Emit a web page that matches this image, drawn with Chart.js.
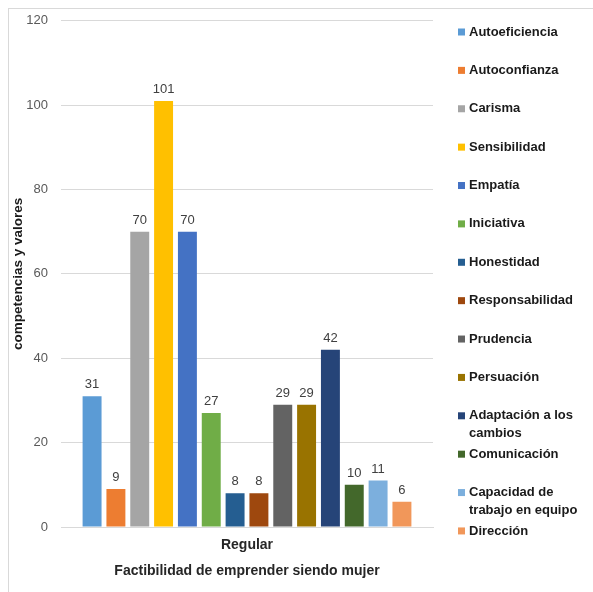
<!DOCTYPE html>
<html>
<head>
<meta charset="utf-8">
<script src="https://cdn.jsdelivr.net/npm/chart.js@4/dist/chart.umd.min.js"></script>
<style>
html,body{margin:0;padding:0;background:#fff;}
#wrap{position:relative;width:593px;height:592px;}
#frame{position:absolute;left:8px;top:8px;width:600px;height:600px;border-left:1px solid #d9d9d9;border-top:1px solid #d9d9d9;box-sizing:border-box;pointer-events:none;}
canvas{position:absolute;left:0;top:0;}
</style>
</head>
<body>
<div id="wrap"><canvas id="c" width="593" height="592"></canvas><div id="frame"></div></div>
<script>
const categories = ["Regular"];
const seriesNames = ["Autoeficiencia","Autoconfianza","Carisma","Sensibilidad","Empatía","Iniciativa","Honestidad","Responsabilidad","Prudencia","Persuación","Adaptación a los cambios","Comunicación","Capacidad de trabajo en equipo","Dirección"];
const legendLines = [["Autoeficiencia"],["Autoconfianza"],["Carisma"],["Sensibilidad"],["Empatía"],["Iniciativa"],["Honestidad"],["Responsabilidad"],["Prudencia"],["Persuación"],["Adaptación a los","cambios"],["Comunicación"],["Capacidad de","trabajo en equipo"],["Dirección"]];
const seriesValues = [31, 9, 70, 101, 70, 27, 8, 8, 29, 29, 42, 10, 11, 6];
const seriesColors = ["#5B9BD5","#ED7D31","#A5A5A5","#FFC000","#4472C4","#70AD47","#255E91","#9E480E","#636363","#997300","#264478","#43682B","#7CAFDD","#F1975A"];
const yTicks = [0, 20, 40, 60, 80, 100, 120];
const yTitle = "competencias y valores";
const xTitle = "Factibilidad de emprender siendo mujer";

const FONT = "'Liberation Sans', Arial, sans-serif";

const valueLabels = {
  id: 'valueLabels',
  afterDatasetsDraw(chart) {
    const ctx = chart.ctx;
    ctx.save();
    ctx.font = "13px " + FONT;
    ctx.fillStyle = "#404040";
    ctx.textAlign = "center";
    ctx.textBaseline = "bottom";
    chart.data.datasets.forEach((ds, i) => {
      const meta = chart.getDatasetMeta(i);
      meta.data.forEach((bar, j) => {
        ctx.fillText(String(ds.data[j]), bar.x, bar.y - 5);
      });
    });
    ctx.restore();
  }
};

const sideLegend = {
  id: 'sideLegend',
  afterDraw(chart) {
    const ctx = chart.ctx;
    ctx.save();
    ctx.font = "bold 13px " + FONT;
    ctx.textBaseline = "middle";
    ctx.textAlign = "left";
    const y0 = 32, step = 38.38;
    chart.data.datasets.forEach((ds, i) => {
      const y = y0 + i * step;
      ctx.fillStyle = ds.backgroundColor;
      ctx.fillRect(458, y - 3.5, 7, 7);
      ctx.fillStyle = "#1a1a1a";
      legendLines[i].forEach((line, k) => {
        ctx.fillText(line, 469, y + k * 18);
      });
    });
    ctx.restore();
  }
};

new Chart(document.getElementById('c'), {
  type: 'bar',
  data: {
    labels: categories,
    datasets: seriesNames.map((name, i) => ({
      label: name,
      data: [seriesValues[i]],
      backgroundColor: seriesColors[i],
      borderWidth: 0
    }))
  },
  options: {
    responsive: false,
    animation: false,
    devicePixelRatio: 1,
    categoryPercentage: 0.897,
    barPercentage: 0.795,
    layout: { padding: { left: 0, top: 18, right: 160, bottom: 0 } },
    plugins: {
      legend: { display: false },
      tooltip: { enabled: false }
    },
    scales: {
      x: {
        grid: { display: false },
        border: { display: true, color: "#d9d9d9" },
        ticks: { color: "#262626", font: { family: FONT, size: 14, weight: 'bold' }, padding: 2 },
        title: { display: true, text: xTitle, color: "#262626", font: { family: FONT, size: 14, weight: 'bold' }, padding: { top: 0, bottom: 12 } },
        afterFit(s) { s.height = 65; }
      },
      y: {
        min: 0, max: 120,
        afterBuildTicks(s) { s.ticks = yTicks.map(v => ({ value: v })); },
        grid: { color: "#d9d9d9", drawTicks: false },
        border: { display: false },
        ticks: { color: "#595959", font: { family: FONT, size: 13 }, padding: 13 },
        title: { display: true, text: yTitle, color: "#1a1a1a", font: { family: FONT, size: 13.5, weight: 'bold' }, padding: { top: 10, bottom: 0 } },
        afterFit(s) { s.width = 61; }
      }
    }
  },
  plugins: [valueLabels, sideLegend]
});
</script>
</body>
</html>
